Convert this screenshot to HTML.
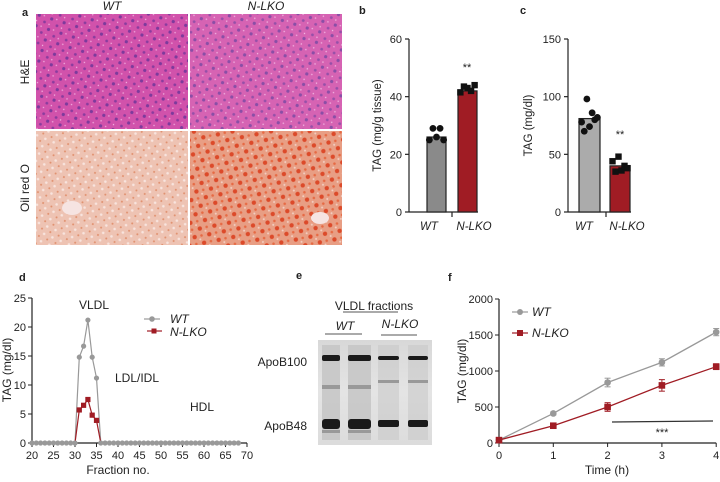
<!DOCTYPE html>
<html><head><meta charset="utf-8"><style>
body{margin:0;background:#fff}
svg text{font-family:"Liberation Sans",Arial,sans-serif;fill:#222}
.it{font-style:italic}
</style></head><body>
<svg id="fig" width="720" height="477" viewBox="0 0 720 477" xmlns="http://www.w3.org/2000/svg">
<defs>
<pattern id="he" width="13" height="11" patternUnits="userSpaceOnUse" patternTransform="rotate(17)">
<rect width="13" height="11" fill="#d152ab"/>
<circle cx="3" cy="3" r="1.6" fill="#7d3a9c"/><circle cx="10" cy="8" r="1.4" fill="#8a3c9e"/>
<circle cx="8" cy="2" r="0.8" fill="#f0a8dc"/><circle cx="2" cy="9" r="0.7" fill="#f4b6e2"/>
</pattern>
<pattern id="orw" width="9" height="8" patternUnits="userSpaceOnUse" patternTransform="rotate(23)">
<rect width="9" height="8" fill="#eec3b3"/>
<circle cx="2" cy="2" r="1" fill="#e0906e"/><circle cx="6" cy="6" r="1.3" fill="#f8e4de"/>
</pattern>
<pattern id="orn" width="11" height="10" patternUnits="userSpaceOnUse" patternTransform="rotate(31)">
<rect width="11" height="10" fill="#e89e84"/>
<circle cx="3" cy="3" r="2.2" fill="#dc4a2a"/><circle cx="8" cy="8" r="1.3" fill="#e66a44"/>
<circle cx="9" cy="2" r="1" fill="#f3cfc2"/>
</pattern>
<linearGradient id="blotbg" x1="0" y1="0" x2="0" y2="1">
<stop offset="0" stop-color="#d8d8d8"/><stop offset="0.5" stop-color="#e4e4e4"/><stop offset="1" stop-color="#dcdcdc"/>
</linearGradient>
</defs>

<!-- Panel a -->
<g>
<text x="22" y="16" font-size="11" font-weight="bold">a</text>
<text x="112" y="10" font-size="12" class="it" text-anchor="middle">WT</text>
<text x="266" y="10" font-size="12" class="it" text-anchor="middle">N-LKO</text>
<text transform="translate(29,72) rotate(-90)" font-size="12" text-anchor="middle">H&amp;E</text>
<text transform="translate(29,188) rotate(-90)" font-size="12" text-anchor="middle">Oil red O</text>
<rect x="36" y="14" width="152" height="115" fill="url(#he)"/>
<rect x="190" y="14" width="152" height="115" fill="url(#he)" opacity="0.9"/>
<rect x="36" y="131" width="152" height="114" fill="url(#orw)"/>
<ellipse cx="72" cy="208" rx="10" ry="7" fill="#f6e4e2"/>
<rect x="190" y="131" width="152" height="114" fill="url(#orn)"/>
<ellipse cx="320" cy="218" rx="9" ry="6" fill="#f6e4e2"/>
</g>

<g id="pb"></g>
<g id="pc"></g>
<g id="pd"></g>

<!-- Panel e -->
<g>
<text x="296" y="279" font-size="11" font-weight="bold">e</text>
<text x="374" y="310" font-size="12" text-anchor="middle">VLDL fractions</text>
<line x1="343" y1="312" x2="398" y2="312" stroke="#555" stroke-width="1"/>
<text x="345" y="330" font-size="12" class="it" text-anchor="middle">WT</text>
<line x1="325" y1="334" x2="362" y2="334" stroke="#555"/>
<text x="400" y="328" font-size="12" class="it" text-anchor="middle">N-LKO</text>
<line x1="381" y1="335" x2="417" y2="335" stroke="#555"/>
<rect x="318" y="340" width="114" height="105" fill="url(#blotbg)"/>
<g fill="#c4c4c4" opacity="0.8">
<rect x="322" y="345" width="18" height="95"/><rect x="348" y="345" width="23" height="95"/>
<rect x="378" y="345" width="21" height="95" opacity="0.6"/><rect x="408" y="345" width="20" height="95" opacity="0.6"/>
</g>
<g fill="#1a1a1a">
<rect x="322" y="355" width="18" height="6" rx="2"/><rect x="348" y="355" width="23" height="6" rx="2"/>
<rect x="378" y="356" width="21" height="4" rx="2"/><rect x="408" y="356" width="20" height="4" rx="2"/>
<rect x="322" y="419" width="18" height="10" rx="3"/><rect x="348" y="419" width="23" height="10" rx="3"/>
<rect x="378" y="420" width="21" height="7" rx="2"/><rect x="408" y="420" width="20" height="7" rx="2"/>
</g>
<g fill="#999"><rect x="322" y="385" width="18" height="4"/><rect x="348" y="385" width="23" height="4"/><rect x="378" y="380" width="21" height="3"/><rect x="408" y="380" width="20" height="3"/>
<rect x="322" y="430" width="18" height="3"/><rect x="348" y="430" width="23" height="3"/></g>
<text x="307" y="366" font-size="12" text-anchor="end">ApoB100</text>
<text x="307" y="430" font-size="12" text-anchor="end">ApoB48</text>
</g>

<g id="pf"></g>
</svg>
<script>
// ---- data ----
const barCats = ['WT','N-LKO'];
const bMeans = [26, 42];
const bPtsWT = [25, 29, 26, 29, 25];
const bPtsKO = [41.5, 43.5, 43, 42, 44];
const bTicks = [0, 20, 40, 60];
const cMeans = [81, 40];
const cPtsWT = [78, 70, 98, 74, 86, 80, 82];
const cPtsKO = [44, 35, 48, 36, 40, 38];
const cTicks = [0, 50, 100, 150];
const dFractions = [20,21,22,23,24,25,26,27,28,29,30,31,32,33,34,35,36,37,38,39,40,41,42,43,44,45,46,47,48,49,50,51,52,53,54,55,56,57,58,59,60,61,62,63,64,65,66,67,68];
const dWT = [0,0,0,0,0,0,0,0,0,0,0,14.8,16.7,21.2,14.8,11.2,0,0,0,0,0,0,0,0,0,0,0,0,0,0,0,0,0,0,0,0,0,0,0,0,0,0,0,0,0,0,0,0,0];
const dKO = [0,0,0,0,0,0,0,0,0,0,0,5.7,6.5,7.5,4.8,3.9,0,0,0,0,0,0,0,0,0,0,0,0,0,0,0,0,0,0,0,0,0,0,0,0,0,0,0,0,0,0,0,0,0];
const dXTicks = [20,25,30,35,40,45,50,55,60,65,70];
const dYTicks = [0,5,10,15,20,25];
const fTimes = [0,1,2,3,4];
const fWT = [40, 410, 840, 1120, 1540];
const fWTerr = [15, 20, 60, 50, 50];
const fKO = [40, 240, 500, 800, 1060];
const fKOerr = [15, 20, 60, 80, 40];
const fYTicks = [0,500,1000,1500,2000];

const NS='http://www.w3.org/2000/svg';
function mk(parent, tag, attrs, text){
  const e=document.createElementNS(NS,tag);
  for(const k in attrs) e.setAttribute(k,attrs[k]);
  if(text!==undefined) e.textContent=text;
  parent.appendChild(e); return e;
}
const GREY='#999', RED='#a01c24';

function barPanel(g, letter, lx, ax, y0, y1, vmax, ticks, means, ptsA, ptsB, barXs, tickX, axEnd, ylab, ylx, starY, colA, labXs){
  const sy=v=>y0-(v/vmax)*(y0-y1);
  const t=mk(g,'text',{x:lx,y:14,'font-size':11,'font-weight':'bold'},letter);
  
  
  mk(g,'line',{x1:ax,y1:y1,x2:ax,y2:y0,stroke:'#222','stroke-width':1.2});
  mk(g,'line',{x1:ax,y1:y0,x2:axEnd,y2:y0,stroke:'#222','stroke-width':1.2});
  mk(g,'line',{x1:tickX,y1:y0,x2:tickX,y2:y0+5,stroke:'#222','stroke-width':1.2});
  ticks.forEach(v=>{
    mk(g,'line',{x1:ax-4,y1:sy(v),x2:ax,y2:sy(v),stroke:'#222','stroke-width':1.2});
    const tl=mk(g,'text',{x:ax-7,y:sy(v)+4,'font-size':11,'text-anchor':'end'},v);
    
    
  });
  const yl=mk(g,'text',{transform:`translate(${ylx},${(y0+y1)/2}) rotate(-90)`,'font-size':11.5,'text-anchor':'middle'},ylab);
  
  
  const cols=[colA,RED];
  means.forEach((m,i)=>{
    const r=mk(g,'rect',{x:barXs[i][0],y:sy(m),width:barXs[i][1]-barXs[i][0],height:y0-sy(m),fill:cols[i],stroke:'#222','stroke-width':1.2});
    
    
    const xl=mk(g,'text',{x:labXs[i],y:y0+18,'font-size':11.5,'text-anchor':'middle','font-style':'italic'},barCats[i]);
    
    
  });
  [ptsA,ptsB].forEach((pts,i)=>{
    const w=barXs[i][1]-barXs[i][0], cx=(barXs[i][0]+barXs[i][1])/2;
    pts.forEach((v,j)=>{
      const px=cx+(j-(pts.length-1)/2)*(w*0.75/(pts.length-1));
      let p;
      if(i===1) p=mk(g,'rect',{x:px-3.2,y:sy(v)-3.2,width:6.4,height:6.4,fill:'#111'});
      else p=mk(g,'circle',{cx:px,cy:sy(v),r:3.4,fill:'#111'});
      
      
    });
  });
  const s=mk(g,'text',{x:starY[0],y:starY[1],'font-size':11,'text-anchor':'middle'},'**');
  
  
}
barPanel(document.getElementById('pb'),'b',359,409,212,39,60,bTicks,bMeans,bPtsWT,bPtsKO,[[427,446],[458,477]],452,478,'TAG (mg/g tissue)',381,[467,71],'#8a8a8a',[429,474]);
barPanel(document.getElementById('pc'),'c',520,568,212,39,150,cTicks,cMeans,cPtsWT,cPtsKO,[[579,600],[610,630]],606,631,'TAG (mg/dl)',532,[620,138],'#ababab',[584,627]);

// ---- panel d ----
(function(){
  const g=document.getElementById('pd');
  const x=f=>32+(f-20)*4.3, y=v=>443-v*5.8;
  const t=mk(g,'text',{x:19,y:281,'font-size':11,'font-weight':'bold'},'d');
  
  
  mk(g,'line',{x1:x(20),y1:y(25),x2:x(20),y2:y(0),stroke:'#222','stroke-width':1.2});
  mk(g,'line',{x1:x(20),y1:y(0),x2:x(70),y2:y(0),stroke:'#222','stroke-width':1.2});
  dYTicks.forEach(v=>{
    mk(g,'line',{x1:x(20)-4,y1:y(v),x2:x(20),y2:y(v),stroke:'#222'});
    const l=mk(g,'text',{x:x(20)-6,y:y(v)+4,'font-size':11,'text-anchor':'end'},v);
    
    
  });
  dXTicks.forEach(v=>{
    mk(g,'line',{x1:x(v),y1:y(0),x2:x(v),y2:y(0)+4,stroke:'#222'});
    const l=mk(g,'text',{x:x(v),y:y(0)+16,'font-size':11,'text-anchor':'middle'},v);
    
    
  });
  const xt=mk(g,'text',{x:118,y:474,'font-size':12,'text-anchor':'middle'},'Fraction no.');
  
  
  const yt=mk(g,'text',{transform:'translate(11,370) rotate(-90)','font-size':12,'text-anchor':'middle'},'TAG (mg/dl)');
  
  
  [['VLDL',94,309],['LDL/IDL',137,382],['HDL',202,411]].forEach(a=>{
    const l=mk(g,'text',{x:a[1],y:a[2],'font-size':12,'text-anchor':'middle'},a[0]);
    
    
  });
  const pWT=mk(g,'polyline',{points:dFractions.map((f,i)=>x(f)+','+y(dWT[i])).join(' '),fill:'none',stroke:GREY,'stroke-width':1.2});
  
  
  const pKO=mk(g,'polyline',{points:dFractions.map((f,i)=>x(f)+','+y(dKO[i])).join(' '),fill:'none',stroke:RED,'stroke-width':1.2});
  
  
  dFractions.forEach((f,i)=>{
    const c=mk(g,'circle',{cx:x(f),cy:y(dWT[i]),r:2.6,fill:GREY});
    
    
    if(dKO[i]>0){
      const s=mk(g,'rect',{x:x(f)-2.6,y:y(dKO[i])-2.6,width:5.2,height:5.2,fill:RED});
      
      
    }
  });
  mk(g,'line',{x1:144,y1:319,x2:160,y2:319,stroke:GREY,'stroke-width':1.2});
  mk(g,'circle',{cx:152,cy:319,r:2.8,fill:GREY});
  const l1=mk(g,'text',{x:170,y:323,'font-size':12,'font-style':'italic'},'WT');
  
  
  mk(g,'line',{x1:147,y1:331,x2:162,y2:331,stroke:RED,'stroke-width':1.2});
  mk(g,'rect',{x:151.5,y:328.5,width:5,height:5,fill:RED});
  const l2=mk(g,'text',{x:170,y:336,'font-size':12,'font-style':'italic'},'N-LKO');
  
  
})();

// ---- panel f ----
(function(){
  const g=document.getElementById('pf');
  const x=t=>499+t*54.3, y=v=>443-v*0.072;
  const t=mk(g,'text',{x:448,y:281,'font-size':11,'font-weight':'bold'},'f');
  
  
  mk(g,'line',{x1:x(0),y1:y(2000),x2:x(0),y2:y(0),stroke:'#222','stroke-width':1.2});
  mk(g,'line',{x1:x(0),y1:y(0),x2:x(4),y2:y(0),stroke:'#222','stroke-width':1.2});
  fYTicks.forEach(v=>{
    mk(g,'line',{x1:x(0)-4,y1:y(v),x2:x(0),y2:y(v),stroke:'#222'});
    const l=mk(g,'text',{x:x(0)-6,y:y(v)+4,'font-size':11,'text-anchor':'end'},v);
    
    
  });
  fTimes.forEach(v=>{
    mk(g,'line',{x1:x(v),y1:y(0),x2:x(v),y2:y(0)+4,stroke:'#222'});
    const l=mk(g,'text',{x:x(v),y:y(0)+16,'font-size':11,'text-anchor':'middle'},v);
    
    
  });
  const xt=mk(g,'text',{x:607,y:474,'font-size':12,'text-anchor':'middle'},'Time (h)');
  
  
  const yt=mk(g,'text',{transform:'translate(466,371) rotate(-90)','font-size':12,'text-anchor':'middle'},'TAG (mg/dl)');
  
  
  [[fWT,fWTerr,GREY,'wt'],[fKO,fKOerr,RED,'nlko']].forEach(s=>{
    const pl=mk(g,'polyline',{points:fTimes.map((tt,i)=>x(tt)+','+y(s[0][i])).join(' '),fill:'none',stroke:s[2],'stroke-width':1.3});
    
    
    fTimes.forEach((tt,i)=>{
      const cx=x(tt), hi=y(s[0][i]+s[1][i]), lo=y(s[0][i]-s[1][i]);
      mk(g,'line',{x1:cx,y1:hi,x2:cx,y2:lo,stroke:s[2]});
      mk(g,'line',{x1:cx-3,y1:hi,x2:cx+3,y2:hi,stroke:s[2]});
      mk(g,'line',{x1:cx-3,y1:lo,x2:cx+3,y2:lo,stroke:s[2]});
      let p;
      if(s[3]==='wt') p=mk(g,'circle',{cx:cx,cy:y(s[0][i]),r:3.3,fill:s[2]});
      else p=mk(g,'rect',{x:cx-3.3,y:y(s[0][i])-3.3,width:6.6,height:6.6,fill:s[2]});
      
      
    });
  });
  mk(g,'line',{x1:612,y1:422,x2:713,y2:421,stroke:'#333','stroke-width':1.2});
  const st=mk(g,'text',{x:662,y:436,'font-size':11,'text-anchor':'middle'},'***');
  
  
  mk(g,'line',{x1:512,y1:312,x2:528,y2:312,stroke:GREY,'stroke-width':1.2});
  mk(g,'circle',{cx:520,cy:312,r:3,fill:GREY});
  const l1=mk(g,'text',{x:532,y:316,'font-size':12,'font-style':'italic'},'WT');
  
  
  mk(g,'line',{x1:512,y1:333,x2:528,y2:333,stroke:RED,'stroke-width':1.2});
  mk(g,'rect',{x:517,y:330,width:6,height:6,fill:RED});
  const l2=mk(g,'text',{x:532,y:337,'font-size':12,'font-style':'italic'},'N-LKO');
  
  
})();
</script>
</body></html>
